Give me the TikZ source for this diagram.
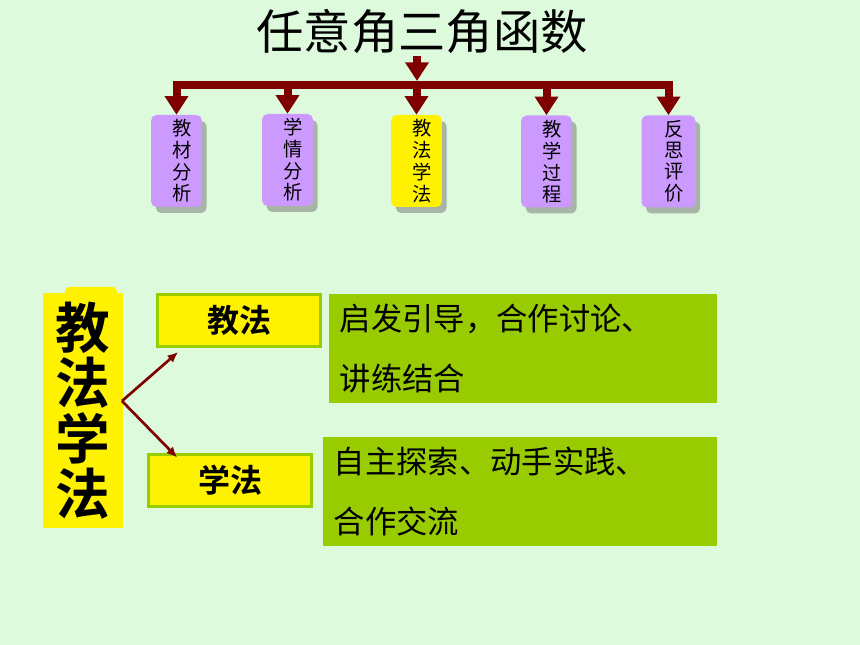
\documentclass[tikz,border=0pt]{standalone}
\usepackage{fontspec}
\newfontfamily\cjk{Noto Sans CJK SC}[BoldFont={Noto Sans CJK SC Bold}]
\usetikzlibrary{arrows.meta, positioning, shadows}
\definecolor{pagegreen}{HTML}{DDFADD}
\definecolor{maroon}{HTML}{800000}
\definecolor{leaf}{HTML}{99CC00}
\definecolor{lilac}{HTML}{CC99FF}
\definecolor{shade}{HTML}{A8B4A8}
\tikzset{
  card/.style={fill=lilac, rounded corners=4pt, inner sep=0pt, minimum width=38pt, minimum height=69pt,
    drop shadow={shadow xshift=3.5pt, shadow yshift=-4.5pt, fill=shade, opacity=1},
    font=\cjk\fontsize{14.5}{15}\selectfont},
  trunk/.style={maroon, line width=6pt},
  drop/.style={trunk, -{Triangle[width=17pt, length=14pt]}},
  branch/.style={maroon, line width=2pt, -{Latex[length=8pt, width=7pt]}},
  tag/.style={fill=yellow, draw=leaf, line width=2.25pt, minimum width=122pt, minimum height=39pt,
    font=\cjk\bfseries\fontsize{24}{28}\selectfont},
  note/.style={fill=leaf, inner xsep=8pt, minimum height=82pt, align=left,
    font=\cjk\fontsize{23.5}{45}\selectfont}
}
\begin{document}
\begin{tikzpicture}[>=latex, x=0.75pt, y=-0.75pt]
\fill[pagegreen] (0,0) rectangle (860,645);
\useasboundingbox (0,0) rectangle (860,645);
\node[font=\cjk\fontsize{35.5}{40}\selectfont, inner sep=2pt] (title) at (422,31) {任意角三角函数};
\node[card] (jc) at (176.5,161) {\hspace*{9pt}\shortstack{教\\材\\分\\析}};
\node[card] (xq) at (287.5,160) {\hspace*{9pt}\shortstack{学\\情\\分\\析}};
\node[card, fill=yellow] (jf) at (416.5,161) {\hspace*{9pt}\shortstack{教\\法\\学\\法}};
\node[card] (jx) at (546.5,161.5) {\hspace*{9pt}\shortstack{教\\学\\过\\程}};
\node[card, minimum width=40.5pt] (fs) at (668.5,161.5) {\hspace*{9pt}\shortstack{反\\思\\评\\价}};
\coordinate (hub) at (417,81);
\coordinate (bar) at (417,85);
\draw[trunk, line cap=rect] (jc.north |- bar) -- (fs.north |- bar);
\draw[drop] (title.south -| hub) -- (hub);
\foreach \c in {jc,xq,jf,jx,fs}
  \draw[drop] (\c.north |- bar) -- (\c.north);
\fill[yellow, rounded corners=3pt] (65,287) rectangle (117,300);
\node[fill=yellow, minimum width=60pt, minimum height=176pt, inner sep=0pt,
  font=\cjk\bfseries\fontsize{41}{42}\selectfont] (big) at (83,410.5) {\shortstack{教\\法\\学\\法}};
\node[tag] (teach) at (239,320.5) {教法};
\node[tag] (learn) at (230,480) {学法};
\node[note, text width=275pt] (teachnote) at (523,348.5) {启发引导，合作讨论、\\讲练结合};
\node[note, text width=279.5pt] (learnnote) at (520,491.5) {自主探索、动手实践、\\合作交流};
\coordinate (fork) at (122,401);
\draw[branch] (fork) -- ([shift={(22,4)}]teach.south west);
\draw[branch] (fork) -- ([shift={(30,5)}]learn.north west);
\end{tikzpicture}
\end{document}
